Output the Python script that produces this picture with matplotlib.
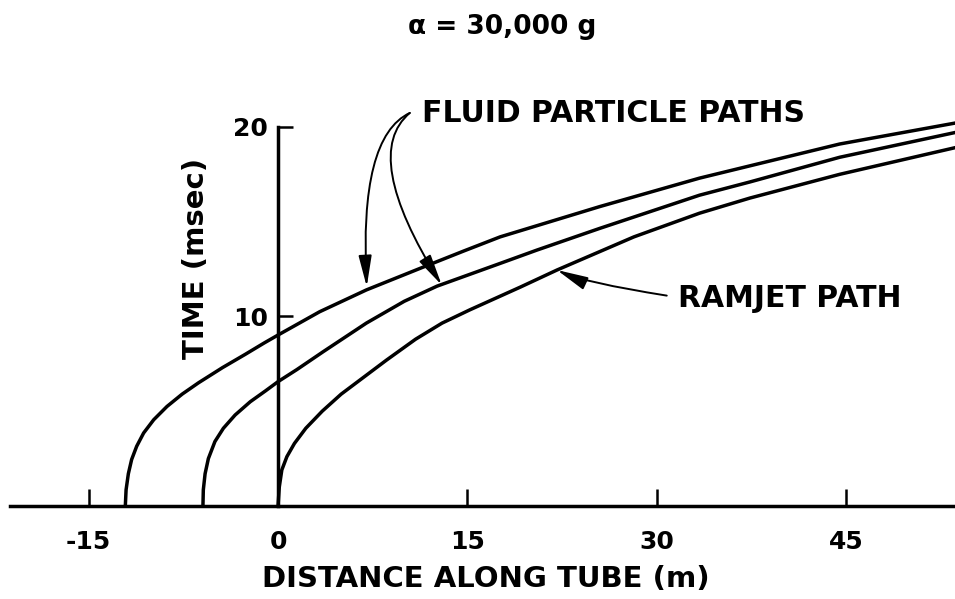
import matplotlib
matplotlib.use("Agg")
import matplotlib.pyplot as plt

# values (x in m, t in msec)
fluid1_x = [-12.1, -12.04, -11.86, -11.6, -11.2, -10.65, -9.85, -8.8, -7.6, -6.3,
            -4.4, -2.6, -1.1, 0.0, 3.3, 7.0, 11.3, 14.7, 17.6, 25.5, 33.4, 37.4,
            44.5, 53.6]
fluid1_t = [0.0, 0.85, 1.7, 2.45, 3.15, 3.85, 4.55, 5.25, 5.9, 6.5,
            7.3, 8.0, 8.6, 9.02, 10.25, 11.4, 12.55, 13.45, 14.2, 15.8, 17.3, 17.95,
            19.1, 20.2]

fluid2_x = [-5.95, -5.92, -5.78, -5.52, -5.0, -4.33, -3.4, -2.2, -1.0, 0.0, 1.5,
            3.6, 7.0, 10.0, 12.6, 17.6, 20.5, 25.5, 33.4, 37.4, 44.5, 53.6]
fluid2_t = [0.0, 0.85, 1.7, 2.5, 3.4, 4.1, 4.8, 5.5, 6.07, 6.56, 7.2,
            8.15, 9.65, 10.8, 11.6, 12.8, 13.5, 14.65, 16.4, 17.1, 18.4, 19.7]

ramjet_x = [0.0, 0.1, 0.3, 0.7, 1.3, 2.2, 3.5, 5.0, 6.6, 8.6, 10.9, 13.0, 15.2,
            19.2, 22.1, 28.2, 33.4, 37.4, 44.5, 53.6]
ramjet_t = [0.0, 1.0, 1.9, 2.6, 3.3, 4.1, 5.0, 5.9, 6.7, 7.7, 8.8, 9.65, 10.35,
            11.55, 12.45, 14.2, 15.45, 16.25, 17.5, 18.9]

x_ticks = [-15, 0, 15, 30, 45]
x_labels = ["-15", "0", "15", "30", "45"]
y_ticks = [10, 20]
y_labels = ["10", "20"]

plt.rcParams['font.family'] = ['DejaVu Sans']
plt.rcParams['font.weight'] = 'bold'

fig = plt.figure(figsize=(9.55, 5.99), dpi=100)
ax = fig.add_axes([0, 0, 1, 1])
ax.set_xlim(-22.03, 53.64)
ax.set_ylim(-4.91, 26.70)

for s in ['top', 'right']:
    ax.spines[s].set_visible(False)
ax.spines['left'].set_position(('data', 0))
ax.spines['bottom'].set_position(('data', 0))
ax.spines['left'].set_bounds(0, 20)
ax.spines['bottom'].set_bounds(-21.2, 53.64)
for s in ['left', 'bottom']:
    ax.spines[s].set_linewidth(2.5)

ax.set_xticks(x_ticks)
ax.set_xticklabels(x_labels)
ax.set_yticks(y_ticks)
ax.set_yticklabels(y_labels)
ax.tick_params(axis='x', direction='in', length=12, width=1.8, pad=17, labelsize=18)
ax.tick_params(axis='y', direction='in', length=11, width=1.8, pad=7, labelsize=18)

for xs, ts in [(fluid1_x, fluid1_t), (fluid2_x, fluid2_t), (ramjet_x, ramjet_t)]:
    ax.plot(xs, ts, color='black', lw=2.5, solid_joinstyle='round', clip_on=False)

# labels and arrows
ax.text(11.4, 20.26, "FLUID PARTICLE PATHS", fontsize=21.5, ha='left', va='baseline')
ax.text(31.7, 10.52, "RAMJET PATH", fontsize=21.5, ha='left', va='baseline')

arrow = dict(arrowstyle='-|>,head_length=0.95,head_width=0.2', color='black',
             lw=1.4, shrinkA=0, shrinkB=0, mutation_scale=20)
ax.annotate('', xy=(7.03, 11.57), xytext=(10.44, 20.74),
            arrowprops=dict(arrow, connectionstyle='angle3,angleA=25,angleB=93'))
ax.annotate('', xy=(12.97, 11.66), xytext=(10.44, 20.74),
            arrowprops=dict(arrow, connectionstyle='angle3,angleA=40,angleB=122'))
ax.annotate('', xy=(22.1, 12.45), xytext=(30.8, 11.1),
            arrowprops=dict(arrow, connectionstyle='angle3,angleA=171,angleB=155'))

fig.text(0.526, 0.944, "α = 30,000 g", fontsize=19, ha='center', va='baseline')
fig.text(0.509, 0.02, "DISTANCE ALONG TUBE (m)", fontsize=21, ha='center', va='baseline')
fig.text(0.205, 0.569, "TIME (msec)", fontsize=21, rotation=90, ha='center', va='center')

fig.savefig("out.png", dpi=100)
